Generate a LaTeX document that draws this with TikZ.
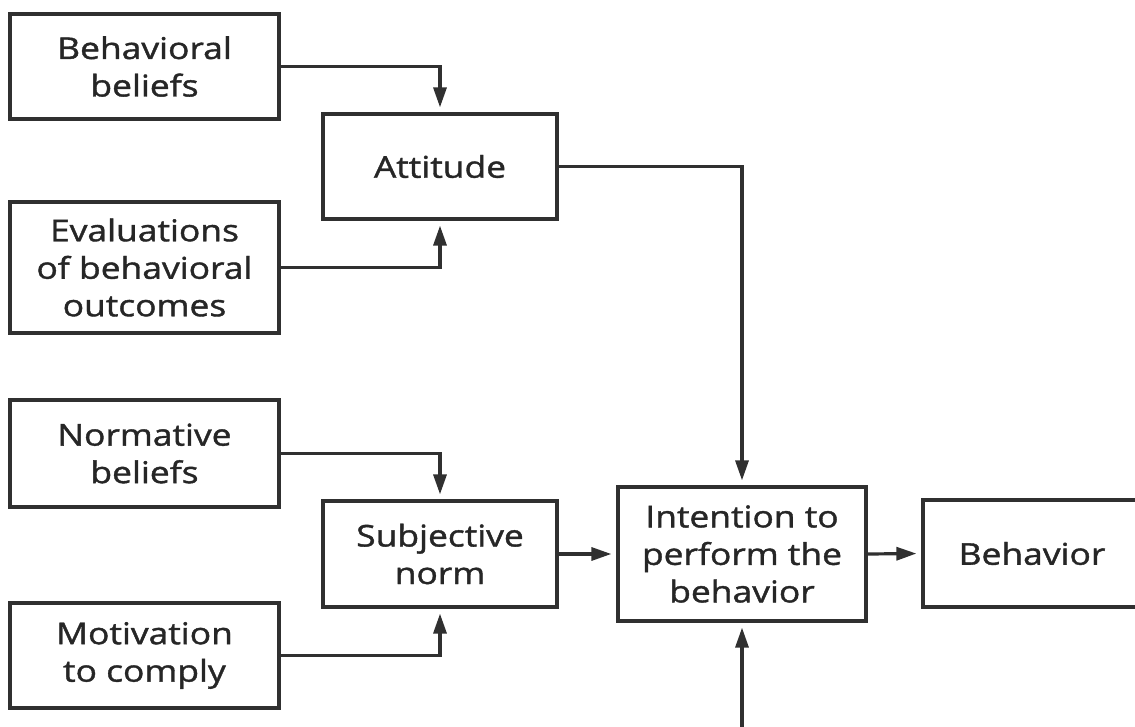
\documentclass[tikz,border=0pt]{standalone}
\usepackage{fontspec}
\setmainfont[FakeStretch=1.18,FakeBold=1.3]{Open Sans}
\usetikzlibrary{arrows.meta}
\definecolor{linec}{HTML}{303030}
\definecolor{textc}{HTML}{262626}
\begin{document}
\begin{tikzpicture}[x=1pt,y=-1pt,
  box/.style={draw=linec, line width=3.2pt, rectangle, align=center, inner sep=0pt,
    text=textc, font=\fontsize{30}{37.5}\selectfont},
  arr/.style={draw=linec, line width=3.2pt, -{Triangle[length=20pt,width=13pt]}, shorten >=5pt}]
\useasboundingbox (0,0) rectangle (1135,727);
\clip (0,0) rectangle (1135,727);
\fill[white] (0,0) rectangle (1135,727);
\node[box, minimum width=269pt, minimum height=105pt] (bb) at (144.5,66.5) {Behavioral\\beliefs};
\node[box, minimum width=234pt, minimum height=105pt] (att) at (440,166.5) {Attitude};
\node[box, minimum width=269pt, minimum height=131pt] (ev) at (144.5,267.5) {Evaluations\\of behavioral\\outcomes};
\node[box, minimum width=269pt, minimum height=107pt] (nb) at (144.5,453.5) {Normative\\beliefs};
\node[box, minimum width=234pt, minimum height=106pt] (sn) at (440,554) {Subjective\\norm};
\node[box, minimum width=269pt, minimum height=105pt] (mc) at (144.5,655.5) {Motivation\\to comply};
\node[box, minimum width=248pt, minimum height=134pt] (int) at (742,554) {Intention to\\perform the\\behavior};
\node[box, minimum width=218pt, minimum height=107pt] (beh) at (1032,553.5) {Behavior};
\coordinate (bot) at (742,745);
\draw[arr] (bb.east) -| (att.north);
\draw[arr] (ev.east) -| (att.south);
\draw[arr] (att.east) -| (int.north);
\draw[arr] (nb.east) -| (sn.north);
\draw[arr] (mc.east) -| (sn.south);
\draw[arr] (sn.east) -- (int.west);
\draw[arr] (int.east) -- (beh.west);
\draw[arr] (bot) -- (int.south);
\end{tikzpicture}
\end{document}
